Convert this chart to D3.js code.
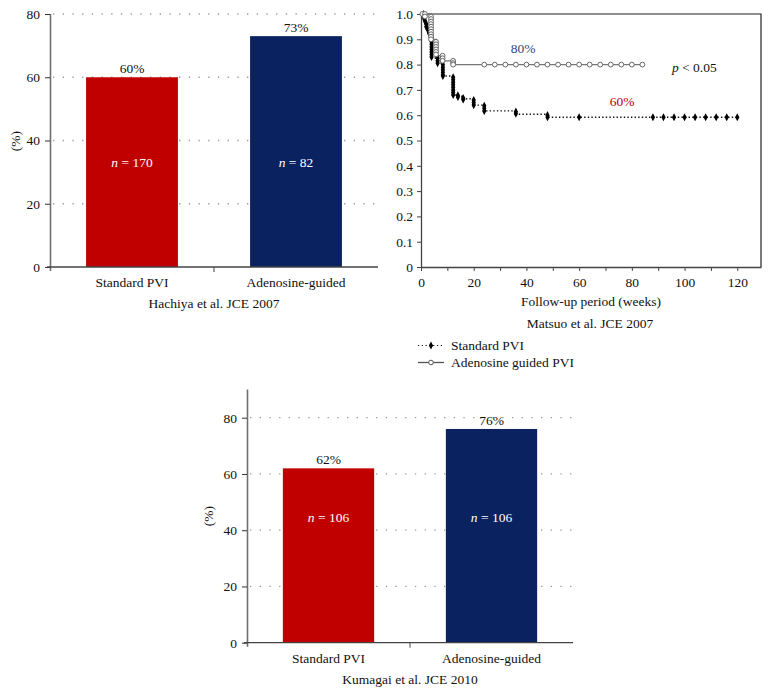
<!DOCTYPE html>
<html><head><meta charset="utf-8">
<script src="https://cdn.jsdelivr.net/npm/d3@7"></script>
<style>
body{margin:0;background:#fff}
text{font-family:"Liberation Serif","DejaVu Serif",serif;font-size:13.5px;fill:#111}
</style>
</head><body>
<svg id="c" width="770" height="694"></svg>
<script>
// ---------- data ----------
const groups = ["Standard PVI", "Adenosine-guided"];
const barColors = ["#c00000", "#0b2260"];
const hachiyaValues = [60, 73];
const hachiyaN = [170, 82];
const kumagaiValues = [62, 76];
const kumagaiN = [106, 106];
const barTicks = [0, 20, 40, 60, 80];
const gridTicks = [20, 40, 60, 80];

const kmTicksY = [0, 0.1, 0.2, 0.3, 0.4, 0.5, 0.6, 0.7, 0.8, 0.9, 1.0];
const kmTicksX = [0, 10, 20, 30, 40, 50, 60, 70, 80, 90, 100, 110, 120];
const kmLabelsX = [0, 20, 40, 60, 80, 100, 120];

// Kaplan-Meier step curves [week, survival]
const standardCurve = [[0,1.0],[1,0.97],[2,0.95],[3,0.925],[4,0.826],[6.3,0.806],[8.3,0.755],[12.2,0.68],[14,0.675],[16,0.665],[20,0.64],[24,0.617],[36,0.604],[48,0.592],[120,0.592]];
const adenosineCurve = [[0,1.0],[3.8,0.90],[5.7,0.835],[8.2,0.815],[12.2,0.80],[84,0.80]];

// marker points [week, survival]
const standardMarkers = [
  [1,1.0],[1,0.99],[1.3,0.98],[1.6,0.97],[2,0.96],[2,0.95],[2.5,0.94],[3,0.93],[3,0.925],
  [4,0.92],[4,0.91],[4,0.90],[4,0.89],[4,0.88],[4,0.87],[4,0.86],[4,0.85],[4,0.84],[4,0.83],
  [6.3,0.825],[6.3,0.815],[6.3,0.806],
  [8.3,0.80],[8.3,0.79],[8.3,0.78],[8.3,0.77],[8.3,0.76],[8.3,0.755],
  [12.2,0.75],[12.2,0.74],[12.2,0.73],[12.2,0.72],[12.2,0.71],[12.2,0.70],[12.2,0.69],[12.2,0.68],
  [14,0.678],[14,0.672],[16,0.668],[16,0.662],
  [20,0.66],[20,0.65],[20,0.64],
  [24,0.637],[24,0.627],[24,0.617],
  [36,0.614],[36,0.606],
  [48,0.60],[48,0.592],
  [60,0.592],
  [88,0.592],[92,0.592],[96,0.592],[100,0.592],[104,0.592],[108,0.592],[112,0.592],[116,0.592],[120,0.592]
];
const adenosineMarkers = [
  [0.5,1.0],[1.5,1.0],[1.5,0.99],
  [3.8,0.99],[3.8,0.98],[3.8,0.97],[3.8,0.96],[3.8,0.95],[3.8,0.94],[3.8,0.93],[3.8,0.92],[3.8,0.91],[3.8,0.90],
  [5.7,0.89],[5.7,0.88],[5.7,0.87],[5.7,0.86],[5.7,0.85],[5.7,0.84],
  [8.2,0.835],[8.2,0.825],[8.2,0.815],
  [12.2,0.815],[12.2,0.806],[12.2,0.80],
  [24,0.80],[28,0.80],[32,0.80],[36,0.80],[40,0.80],[44,0.80],[48,0.80],[52,0.80],[56,0.80],[60,0.80],[64,0.80],[68,0.80],[72,0.80],[76,0.80],[80,0.80],[84,0.80]
];

// ---------- drawing ----------
const svg = d3.select("#c");

function barPanel(o) {
  const g = svg.append("g");
  const x = d3.scaleBand().domain(groups).range([o.x0, o.x1]).paddingInner(0.44).paddingOuter(0.22);
  const y = d3.scaleLinear().domain([0, o.ymax]).range([o.yBottom, o.yTop]);

  // grid
  g.selectAll(".grid").data(gridTicks).join("line")
    .attr("x1", o.x0 + 3).attr("x2", o.x1)
    .attr("y1", d => y(d)).attr("y2", d => y(d))
    .attr("stroke", "#9a9a9a").attr("stroke-width", 1.3)
    .attr("stroke-dasharray", "1.3,8.4");

  // bars
  g.selectAll(".bar").data(o.values).join("rect")
    .attr("x", (d, i) => x(groups[i])).attr("width", x.bandwidth())
    .attr("y", d => y(d)).attr("height", d => y(0) - y(d))
    .attr("fill", (d, i) => barColors[i]);

  // value labels
  g.selectAll(".vl").data(o.values).join("text")
    .attr("x", (d, i) => x(groups[i]) + x.bandwidth() / 2)
    .attr("y", d => y(d) - 4)
    .attr("text-anchor", "middle")
    .text(d => d + "%");

  // n labels
  const nl = g.selectAll(".nl").data(o.ns).join("text")
    .attr("x", (d, i) => x(groups[i]) + x.bandwidth() / 2)
    .attr("y", y(o.nLabelAt))
    .attr("text-anchor", "middle")
    .style("fill", "#fff");
  nl.append("tspan").attr("font-style", "italic").style("fill", "#fff").text("n");
  nl.append("tspan").style("fill", "#fff").text(d => " = " + d);

  // y axis
  const ya = g.append("g").attr("transform", `translate(${o.x0},0)`)
    .call(d3.axisLeft(y).tickValues(barTicks).tickSize(5).tickPadding(5).tickSizeOuter(0));
  ya.select(".domain").attr("stroke", "#6f6f6f").attr("stroke-width", 1.6)
    .attr("d", `M0.5,${y(o.ymax)}V${y(0) + 4}`);
  ya.selectAll(".tick line").attr("stroke", "#333");
  ya.selectAll(".tick text").style("font-size", "13.5px").style("fill", "#111").attr("font-family", null);

  // x axis
  const xa = g.append("g").attr("transform", `translate(0,${y(0)})`);
  xa.append("line").attr("x1", o.x0 - 3).attr("x2", o.x1).attr("y1", 0).attr("y2", 0)
    .attr("stroke", "#444").attr("stroke-width", 1.3);
  xa.append("line").attr("x1", (o.x0 + o.x1) / 2).attr("x2", (o.x0 + o.x1) / 2)
    .attr("y1", 0).attr("y2", 5).attr("stroke", "#444");
  xa.selectAll(".xl").data(groups).join("text")
    .attr("x", d => x(d) + x.bandwidth() / 2).attr("y", 20)
    .attr("text-anchor", "middle").text(d => d);

  // title
  g.append("text").attr("x", (o.x0 + o.x1) / 2).attr("y", y(0) + 41)
    .attr("text-anchor", "middle").text(o.title);

  // y label
  g.append("text").attr("transform", `translate(${o.ylabX},${o.ylabY}) rotate(-90)`)
    .attr("text-anchor", "middle").attr("dy", "0.35em").text("(%)");
}

barPanel({values: hachiyaValues, ns: hachiyaN, x0: 50, x1: 378, yTop: 14, yBottom: 267, ymax: 80,
  nLabelAt: 31.7, title: "Hachiya et al. JCE 2007", ylabX: 15, ylabY: 141});
barPanel({values: kumagaiValues, ns: kumagaiN, x0: 247, x1: 573, yTop: 389.6, yBottom: 642.7, ymax: 90,
  nLabelAt: 42.8, title: "Kumagai et al. JCE 2010", ylabX: 208, ylabY: 516});

// ---------- Kaplan-Meier panel ----------
(function () {
  const g = svg.append("g");
  const x = d3.scaleLinear().domain([0, 129]).range([421, 761]);
  const y = d3.scaleLinear().domain([0, 1]).range([267, 14]);

  // frame top/right
  g.append("path").attr("d", `M${x(0)},${y(1)}H${x(129)}V${y(0)}`)
    .attr("fill", "none").attr("stroke", "#222").attr("stroke-width", 1.2);

  const ya = g.append("g").attr("transform", `translate(${x(0)},0)`)
    .call(d3.axisLeft(y).tickValues(kmTicksY).tickSize(4).tickPadding(4).tickSizeOuter(0)
      .tickFormat(d => d === 0 ? "0" : d.toFixed(1)));
  ya.select(".domain").attr("stroke", "#444").attr("stroke-width", 1.3);
  ya.selectAll(".tick line").attr("stroke", "#444");
  ya.selectAll(".tick text").style("font-size", "13.5px").style("fill", "#111").attr("font-family", null);

  const xa = g.append("g").attr("transform", `translate(0,${y(0)})`)
    .call(d3.axisBottom(x).tickValues(kmTicksX).tickSize(4).tickPadding(6).tickSizeOuter(0)
      .tickFormat(d => kmLabelsX.includes(d) ? d : ""));
  xa.select(".domain").attr("stroke", "#444").attr("stroke-width", 1.3);
  xa.selectAll(".tick line").attr("stroke", "#444");
  xa.selectAll(".tick text").style("font-size", "13.5px").style("fill", "#111").attr("font-family", null);

  const line = d3.line().x(d => x(d[0])).y(d => y(d[1])).curve(d3.curveStepAfter);

  g.append("path").datum(adenosineCurve).attr("d", line)
    .attr("fill", "none").attr("stroke", "#777").attr("stroke-width", 1.3);
  g.append("path").datum(standardCurve).attr("d", line)
    .attr("fill", "none").attr("stroke", "#111").attr("stroke-width", 1.4)
    .attr("stroke-dasharray", "1.4,2.2");

  const diamond = d3.symbol().type(d3.symbolDiamond).size(16);
  g.selectAll(".sm").data(standardMarkers).join("path")
    .attr("d", diamond)
    .attr("transform", d => `translate(${x(d[0])},${y(d[1])}) scale(1,1.1)`)
    .attr("fill", "#000");

  g.selectAll(".am").data(adenosineMarkers).join("circle")
    .attr("cx", d => x(d[0])).attr("cy", d => y(d[1])).attr("r", 2.4)
    .attr("fill", "#fff").attr("stroke", "#666").attr("stroke-width", 1);

  // annotations
  g.append("text").attr("x", 523).attr("y", 53).attr("text-anchor", "middle")
    .style("fill", "#2b4a86").text("80%");
  g.append("text").attr("x", 622).attr("y", 106).attr("text-anchor", "middle")
    .style("fill", "#c00000").text("60%");
  const pt = g.append("text").attr("x", 672).attr("y", 72);
  pt.append("tspan").attr("font-style", "italic").text("p");
  pt.append("tspan").text(" < 0.05");

  g.append("text").attr("x", 591).attr("y", 306).attr("text-anchor", "middle").text("Follow-up period (weeks)");
  g.append("text").attr("x", 590).attr("y", 328).attr("text-anchor", "middle").text("Matsuo et al. JCE 2007");

  // legend
  const lg = g.append("g");
  lg.append("line").attr("x1", 418).attr("x2", 444).attr("y1", 345.5).attr("y2", 345.5)
    .attr("stroke", "#111").attr("stroke-width", 1.2).attr("stroke-dasharray", "1.2,2.6");
  lg.append("path").attr("d", diamond).attr("transform", "translate(431,345.5) scale(1,1.1)").attr("fill", "#000");
  lg.append("text").attr("x", 451).attr("y", 350).text("Standard PVI");
  lg.append("line").attr("x1", 418).attr("x2", 444).attr("y1", 362.5).attr("y2", 362.5)
    .attr("stroke", "#555").attr("stroke-width", 1.3);
  lg.append("circle").attr("cx", 431).attr("cy", 362.5).attr("r", 2.3)
    .attr("fill", "#fff").attr("stroke", "#555");
  lg.append("text").attr("x", 451).attr("y", 367).text("Adenosine guided PVI");
})();
</script>
</body></html>
